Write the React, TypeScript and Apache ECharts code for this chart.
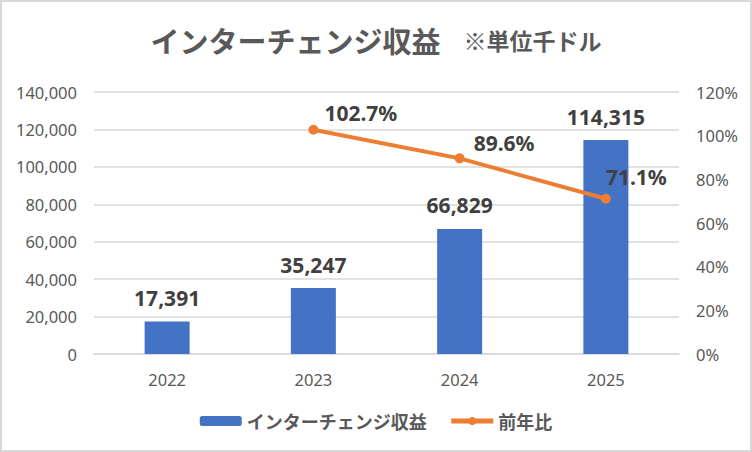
import React, { useEffect, useRef } from "react";
import * as echarts from "echarts";

const categories = ["2022", "2023", "2024", "2025"];
const revenue = [17391, 35247, 66829, 114315];
const yoy: (number | null)[] = [null, 102.7, 89.6, 71.1];
const yoyLabelOffsets: number[][] = [[0, 0], [6, -17], [9, -15], [-5, -22]];
const titleMain = "インターチェンジ収益";
const titleSub = "※単位千ドル";
const barName = "インターチェンジ収益";
const lineName = "前年比";

const FONT = "'Noto Sans', 'Noto Sans CJK JP', sans-serif";
const JP = "'Noto Sans CJK JP', 'Noto Sans', sans-serif";

export default function App() {
  const ref = useRef<HTMLDivElement>(null);
  useEffect(() => {
    document.body.style.margin = "0";
    if (!ref.current) return;
    const chart = echarts.init(ref.current, undefined, { renderer: "svg" });
    chart.setOption({
      animation: false,
      backgroundColor: "#ffffff",
      textStyle: { fontFamily: FONT },
      title: {
        left: "center",
        top: 20,
        text: `{a|${titleMain}}{s|　}{b|${titleSub}}`,
        textStyle: {
          rich: {
            a: { fontSize: 29, fontWeight: "bold", color: "#595959", fontFamily: JP },
            s: { fontSize: 23, fontFamily: JP },
            b: { fontSize: 23, fontWeight: "bold", color: "#595959", fontFamily: JP },
          },
        },
      },
      graphic: [
        {
          type: "rect",
          shape: { x: 1, y: 1, width: 750, height: 450 },
          style: { fill: "none", stroke: "#d9d9d9", lineWidth: 2 },
          silent: true,
        },
      ],
      legend: {
        left: "center",
        top: 407,
        itemWidth: 42,
        itemHeight: 10,
        itemGap: 22,
        textStyle: { fontSize: 18, fontWeight: "bold", color: "#595959", fontFamily: JP },
        data: [
          { name: barName },
          { name: lineName, lineStyle: { width: 5 } },
        ],
      },
      grid: { left: 94, right: 73, top: 92, bottom: 98 },
      xAxis: {
        type: "category",
        data: categories,
        axisLine: { lineStyle: { color: "#d9d9d9", width: 1.5 } },
        axisTick: { show: false },
        axisLabel: { fontSize: 16.5, color: "#595959", margin: 17 },
      },
      yAxis: [
        {
          type: "value",
          min: 0,
          max: 140000,
          interval: 20000,
          axisLine: { show: false },
          axisTick: { show: false },
          splitLine: { lineStyle: { color: "#d9d9d9", width: 1.5 } },
          axisLabel: {
            fontSize: 16.5,
            color: "#595959",
            margin: 17,
            formatter: (v: number) => v.toLocaleString("en-US"),
          },
        },
        {
          type: "value",
          min: 0,
          max: 120,
          interval: 20,
          position: "right",
          axisLine: { show: false },
          axisTick: { show: false },
          splitLine: { show: false },
          axisLabel: { fontSize: 16.5, color: "#595959", margin: 17, formatter: "{value}%" },
        },
      ],
      series: [
        {
          name: barName,
          type: "bar",
          data: revenue,
          barWidth: 45,
          itemStyle: { color: "#4472C4" },
          label: {
            show: true,
            position: "top",
            distance: 13,
            fontSize: 21,
            fontWeight: "bold",
            color: "#404040",
            formatter: (p: any) => Number(p.value).toLocaleString("en-US"),
          },
        },
        {
          name: lineName,
          type: "line",
          yAxisIndex: 1,
          data: yoy.map((v, i) => ({
            value: v,
            label: { offset: yoyLabelOffsets[i] },
          })),
          symbol: "circle",
          symbolSize: 10,
          lineStyle: { color: "#ED7D31", width: 4 },
          itemStyle: { color: "#ED7D31" },
          label: {
            show: true,
            position: "right",
            distance: 0,
            fontSize: 21,
            fontWeight: "bold",
            color: "#404040",
            formatter: (p: any) => `${p.value}%`,
          },
        },
      ],
    });
    return () => chart.dispose();
  }, []);
  return <div ref={ref} style={{ width: 752, height: 452 }} />;
}
